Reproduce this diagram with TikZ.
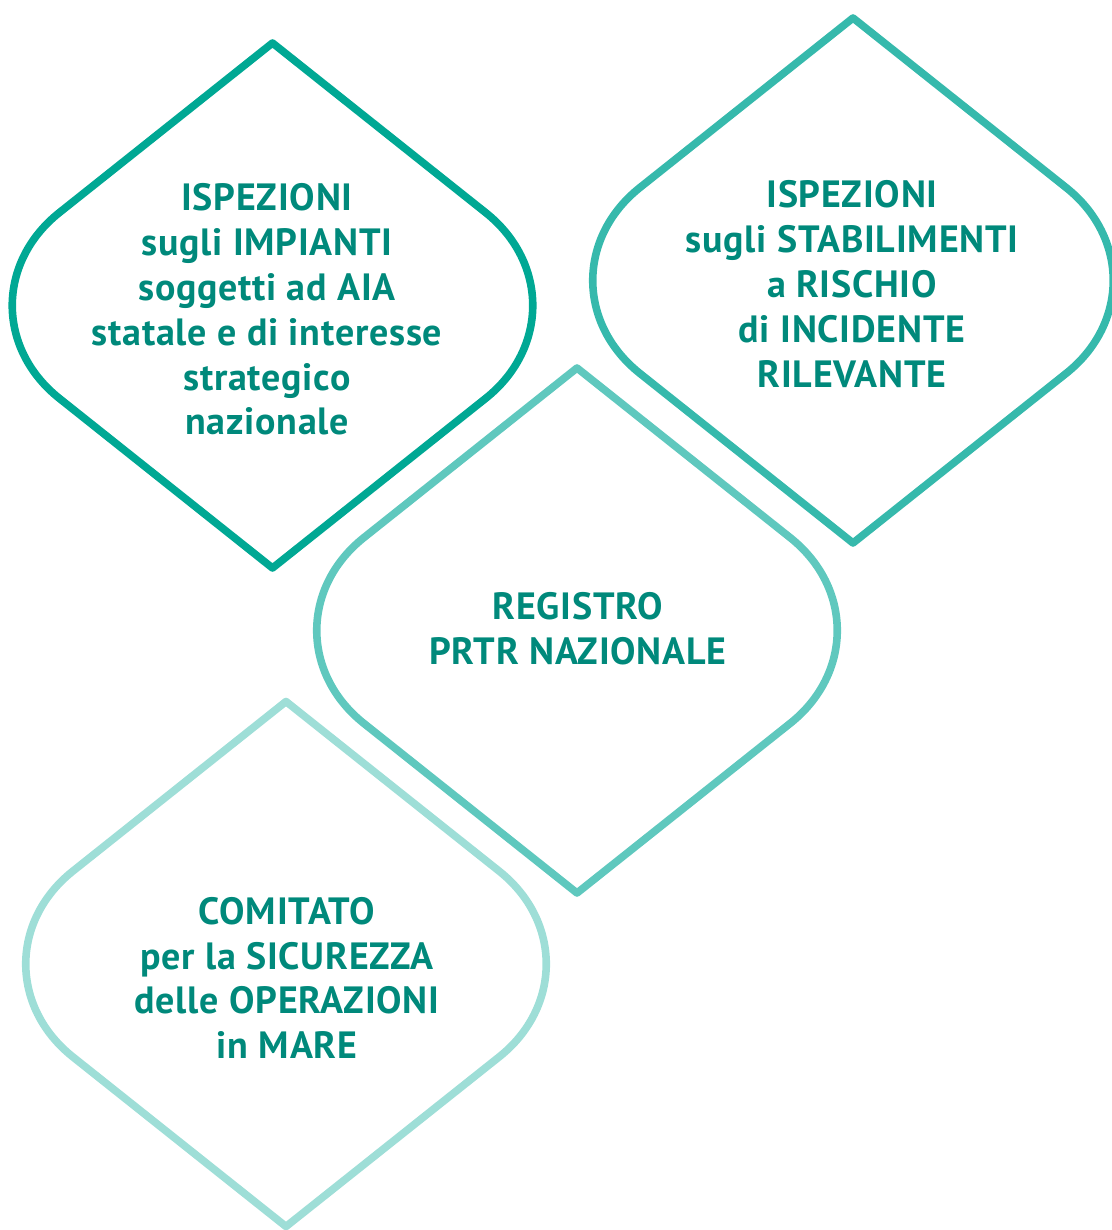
\documentclass[tikz,border=0pt]{standalone}
\usepackage{fontspec}
\setmainfont{PT Sans}[LetterSpace=2.0]
\usepackage{tikz}
\definecolor{testo}{HTML}{00897B}
\definecolor{tonoA}{HTML}{00A894}
\definecolor{tonoB}{HTML}{36B9AC}
\definecolor{tonoC}{HTML}{5FC8BE}
\definecolor{tonoD}{HTML}{9EDED7}

\begin{document}
\begin{tikzpicture}[x=0.5pt,y=-0.5pt,line join=round,
	goccia/.style={line width=3.8pt},
	voce/.style={align=center,text=testo,font=\bfseries\fontsize{19}{22.4}\selectfont}]
		\useasboundingbox (0,0) rectangle (1112,1230);
		
		% the four drop shapes
		\foreach \cx/\cy/\tono in {272.5/305.5/tonoA,853/280.5/tonoB,577/630.5/tonoC,286/964/tonoD}
		\draw[goccia,draw=\tono,shift={(\cx,\cy)}] (0,-262.5) -- (-213,-93)
			.. controls (-276,-43) and (-276,43) .. (-213,93) -- (0,262.5) -- (213,93)
			.. controls (276,43) and (276,-43) .. (213,-93) -- cycle;
		
		% the texts
		\node[voce] (impianti) at (267,309.5) {ISPEZIONI\\ sugli IMPIANTI\\ soggetti ad AIA\\ statale e di interesse\\ strategico\\ nazionale};
		\node[voce] (stabilimenti) at (852,284) {ISPEZIONI\\ sugli STABILIMENTI\\ a RISCHIO\\ di INCIDENTE\\ RILEVANTE};
		\node[voce] (registro) at (578,628.5) {REGISTRO\\ PRTR NAZIONALE};
		\node[voce] (comitato) at (287,978) {COMITATO\\ per la SICUREZZA\\ delle OPERAZIONI\\ in MARE};
		\end{tikzpicture}
\end{document}
